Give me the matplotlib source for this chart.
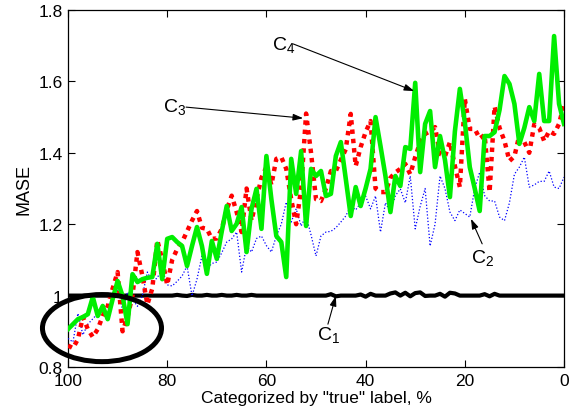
import matplotlib
matplotlib.use("Agg")
import matplotlib.pyplot as plt
from matplotlib.patches import Ellipse

plt.rcParams['font.family'] = ['Liberation Sans', 'DejaVu Sans']
plt.rcParams['mathtext.fontset'] = 'custom'
plt.rcParams['mathtext.rm'] = 'Liberation Sans'

# x positions: categorized by "true" label, % (100 -> 0)
pct = list(range(100, -1, -1))

c1 = [1.0] * 21 + [1.0, 1.002, 1.0, 0.999, 1.002, 1.0, 1.0, 1.002, 1.0, 1.0,
       1.002, 1.0, 1.0, 1.002, 1.0, 1.0, 1.002, 1.0] + [1.0] * 14 + \
     [1.004, 0.998, 1.0, 1.0, 1.0, 1.0, 1.003, 0.997, 1.005, 1.0, 1.0, 1.0,
      1.006, 1.009, 1.0, 1.008, 0.998, 1.007, 1.009, 0.999, 1.0, 1.0,
      1.005, 0.997, 1.008, 1.006, 1.0, 1.0, 1.0, 1.0, 1.0, 1.004, 0.998, 1.005, 1.0]
c1 = c1[:101] + [1.0] * (101 - len(c1))

c2 = [0.88, 0.87, 0.95, 0.89, 0.92, 0.935, 0.95, 0.962, 0.971, 0.99,
      1.018, 0.96, 1.01, 0.99, 0.97, 1.00, 1.066, 1.038, 1.05, 1.075,
      1.03, 1.027, 1.04, 1.055, 1.083, 0.999, 1.046, 1.111, 1.075, 1.09,
      1.094, 1.12, 1.15, 1.159, 1.178, 1.066, 1.139, 1.122, 1.16, 1.167,
      1.14, 1.122, 1.167, 1.20, 1.262, 1.206, 1.243, 1.195, 1.223, 1.17,
      1.111, 1.167, 1.178, 1.18, 1.19, 1.206, 1.223, 1.251, 1.24, 1.26,
      1.279, 1.243, 1.279, 1.178, 1.26, 1.234, 1.28, 1.299, 1.26, 1.335,
      1.187, 1.25, 1.30, 1.139, 1.20, 1.335, 1.30, 1.234, 1.21, 1.24,
      1.23, 1.22, 1.30, 1.346, 1.28, 1.265, 1.265, 1.22, 1.21, 1.26,
      1.34, 1.36, 1.388, 1.304, 1.31, 1.32, 1.32, 1.349, 1.304, 1.30, 1.332]

c3 = [0.86, 0.853, 0.878, 0.94, 0.906, 0.884, 0.906, 0.943, 0.97, 1.02,
      1.066, 0.90, 0.94, 1.00, 1.122, 1.055, 0.975, 1.02, 1.155, 1.10,
      1.03, 1.10, 1.13, 1.15, 1.18, 1.21, 1.237, 1.19, 1.187, 1.159,
      1.16, 1.187, 1.24, 1.28, 1.234, 1.178, 1.30, 1.21, 1.27, 1.33,
      1.36, 1.31, 1.383, 1.388, 1.355, 1.27, 1.20, 1.30, 1.51, 1.40,
      1.27, 1.265, 1.30, 1.349, 1.349, 1.38, 1.41, 1.509, 1.363, 1.416,
      1.458, 1.489, 1.30, 1.29, 1.29, 1.33, 1.345, 1.355, 1.369, 1.34,
      1.388, 1.43, 1.453, 1.46, 1.472, 1.397, 1.39, 1.43, 1.363, 1.304,
      1.551, 1.467, 1.467, 1.44, 1.45, 1.29, 1.53, 1.47, 1.433, 1.377,
      1.39, 1.45, 1.43, 1.40, 1.48, 1.47, 1.433, 1.461, 1.453, 1.481, 1.537]

c4 = [0.906, 0.92, 0.934, 0.94, 0.948, 0.996, 0.943, 0.971, 0.934, 0.99,
      1.041, 0.999, 0.92, 1.06, 1.038, 1.046, 1.05, 1.052, 1.145, 1.046,
      1.159, 1.164, 1.150, 1.139, 1.083, 1.139, 1.192, 1.139, 1.061, 1.153,
      1.103, 1.18, 1.251, 1.181, 1.201, 1.248, 1.122, 1.243, 1.299, 1.187,
      1.391, 1.27, 1.167, 1.150, 1.052, 1.383, 1.285, 1.405, 1.195, 1.355,
      1.335, 1.349, 1.279, 1.285, 1.391, 1.430, 1.327, 1.223, 1.304, 1.251,
      1.30, 1.355, 1.500, 1.419, 1.335, 1.234, 1.335, 1.307, 1.416, 1.411,
      1.596, 1.346, 1.481, 1.517, 1.360, 1.447, 1.38, 1.276, 1.46, 1.579,
      1.486, 1.36, 1.30, 1.237, 1.447, 1.447, 1.458, 1.52, 1.615, 1.593,
      1.537, 1.425, 1.47, 1.528, 1.489, 1.621, 1.489, 1.489, 1.727, 1.537, 1.481]

xticks = [100, 80, 60, 40, 20, 0]
yticks = [0.8, 1.0, 1.2, 1.4, 1.6, 1.8]
ytick_labels = ['0.8', '1', '1.2', '1.4', '1.6', '1.8']

fig = plt.figure(figsize=(5.7, 4.14), dpi=100)
ax = fig.add_axes([0.1193, 0.1111, 0.8702, 0.8623])

ax.plot(pct, c1, color='black', lw=3.0, zorder=2)
ax.plot(pct, c2, color='blue', lw=0.9, linestyle=(0, (1, 1.6)), zorder=3)
ax.plot(pct, c3, color='red', lw=3.2, linestyle=(0, (1, 1.1)), zorder=4)
ax.plot(pct, c4, color='#00ee00', lw=3.3, zorder=5)

ax.add_patch(Ellipse((93.15, 0.909), width=24.0, height=0.188, fill=False,
                     ec='black', lw=3.6, clip_on=False, zorder=6))

ax.set_xlim(100, 0)
ax.set_ylim(0.8, 1.8)
ax.set_xticks(xticks)
ax.set_xticklabels([str(v) for v in xticks])
ax.set_yticks(yticks)
ax.set_yticklabels(ytick_labels)
ax.tick_params(direction='in', length=5, width=0.8, top=True, right=True,
               labelsize=12.5, pad=4)
for s in ax.spines.values():
    s.set_linewidth(0.9)

ax.set_xlabel('Categorized by "true" label, %', fontsize=12.5, labelpad=2)
ax.set_ylabel('MASE', fontsize=13, labelpad=4)

arrow = dict(arrowstyle='-|>,head_length=0.6,head_width=0.2', color='black',
             lw=0.8, shrinkA=0, shrinkB=0)
ann = [
    (r'$\mathregular{C_4}$', (58.9, 1.691), (54.6, 1.705), (30.2, 1.573)),
    (r'$\mathregular{C_3}$', (80.85, 1.517), (76.2, 1.528), (52.6, 1.497)),
    (r'$\mathregular{C_2}$', (18.75, 1.094), (16.5, 1.145), (18.75, 1.215)),
    (r'$\mathregular{C_1}$', (49.8, 0.878), (47.6, 0.920), (46.0, 0.999)),
]
for label, tpos, start, end in ann:
    ax.text(tpos[0], tpos[1], label, fontsize=14, ha='left', va='baseline', zorder=7)
    ax.annotate('', xy=end, xytext=start, arrowprops=arrow, zorder=7)

fig.savefig('out.png', dpi=100)
